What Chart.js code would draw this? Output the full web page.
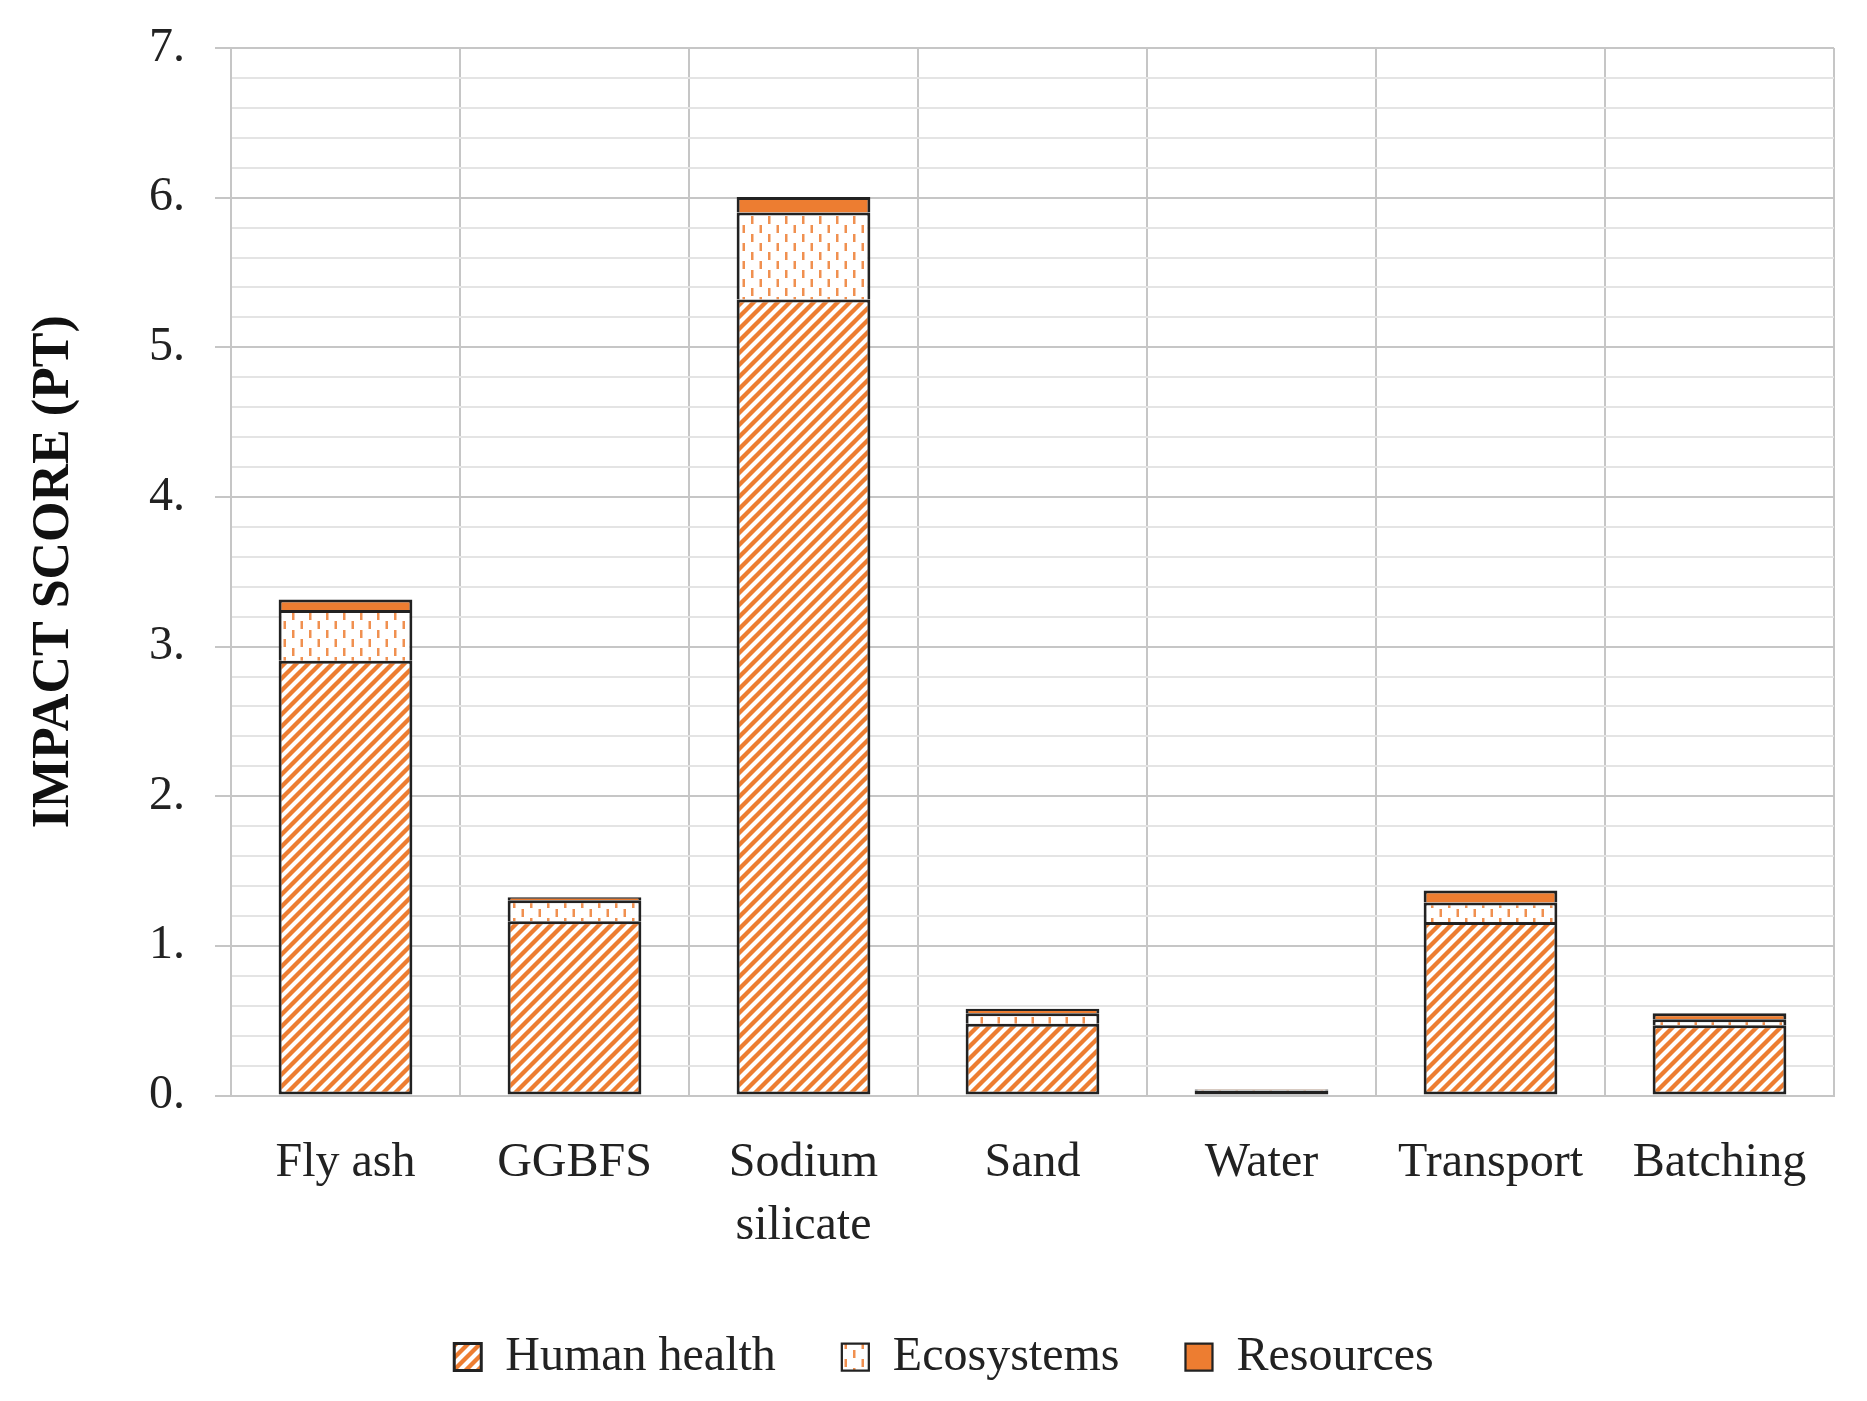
<!DOCTYPE html>
<html>
<head>
<meta charset="utf-8">
<script src="https://cdn.jsdelivr.net/npm/chart.js@4.4.1/dist/chart.umd.min.js"></script>
<style>
  html, body { margin: 0; padding: 0; background: #fff; }
  #wrap { width: 1867px; height: 1401px; position: relative; }
</style>
</head>
<body>
<div id="wrap"><canvas id="c" width="1867" height="1401"></canvas></div>
<script>
const categories = ['Fly ash', 'GGBFS', ['Sodium', 'silicate'], 'Sand', 'Water', 'Transport', 'Batching'];
const humanHealth = [2.905, 1.165, 5.32, 0.48, 0.034, 1.16, 0.47];
const ecosystems  = [0.34, 0.14, 0.58, 0.07, 0.005, 0.13, 0.04];
const resources   = [0.07, 0.02, 0.105, 0.03, 0.003, 0.08, 0.04];
const seriesNames = ['Human health', 'Ecosystems', 'Resources'];
const yMin = 0, yMax = 7, yStep = 0.2;

const ORANGE = '#ED7D31';
const canvas = document.getElementById('c');
const ctx = canvas.getContext('2d');

function makeHatch() {
  const c = document.createElement('canvas'); c.width = 12; c.height = 12;
  const g = c.getContext('2d');
  g.fillStyle = '#fff'; g.fillRect(0, 0, 12, 12);
  g.strokeStyle = ORANGE; g.lineWidth = 4.3; g.lineCap = 'square';
  g.beginPath();
  g.moveTo(-3, 15); g.lineTo(15, -3);
  g.moveTo(-3, 3); g.lineTo(3, -3);
  g.moveTo(9, 15); g.lineTo(15, 9);
  g.stroke();
  return ctx.createPattern(c, 'repeat');
}
function makeDashes() {
  const c = document.createElement('canvas'); c.width = 17; c.height = 18;
  const g = c.getContext('2d');
  g.fillStyle = '#fff'; g.fillRect(0, 0, 17, 18);
  g.fillStyle = 'rgba(237,125,49,0.85)';
  g.fillRect(3, 0, 2.5, 8);
  g.fillRect(11.5, 9, 2.5, 8);
  return ctx.createPattern(c, 'repeat');
}

const BORDER = '#222';
const isMajor = v => Math.abs(v - Math.round(v)) < 1e-6;

const legendShift = {
  id: 'legendShift',
  afterLayout(chart) {
    const lg = chart.legend;
    if (lg) { lg.left += 27; lg.right += 27; }
  }
};

new Chart(ctx, {
  type: 'bar',
  data: {
    labels: categories,
    datasets: [
      { label: seriesNames[0], data: humanHealth, backgroundColor: makeHatch(),
        borderColor: BORDER, borderSkipped: false, borderWidth: { top: 3, bottom: 3, left: 3, right: 3 } },
      { label: seriesNames[1], data: ecosystems, backgroundColor: makeDashes(),
        borderColor: BORDER, borderSkipped: false, borderWidth: { top: 3, bottom: 0, left: 3, right: 3 } },
      { label: seriesNames[2], data: resources, backgroundColor: ORANGE,
        borderColor: BORDER, borderSkipped: false, borderWidth: { top: 3, bottom: 0, left: 3, right: 3 } }
    ]
  },
  plugins: [legendShift],
  options: {
    responsive: false,
    animation: false,
    layout: { padding: { top: 48, right: 33, bottom: 10, left: 0 } },
    datasets: { bar: { categoryPercentage: 1.0, barPercentage: 0.584 } },
    plugins: {
      tooltip: { enabled: false },
      legend: {
        position: 'bottom',
        labels: {
          font: { family: 'Liberation Serif', size: 48 },
          color: '#222',
          boxWidth: 27, boxHeight: 27,
          padding: 66
        }
      }
    },
    scales: {
      x: {
        stacked: true,
        grid: { display: true, offset: true, color: '#c6c6c6', lineWidth: 2, drawTicks: false },
        border: { display: true, color: '#c6c6c6', width: 2 },
        ticks: {
          font: { family: 'Liberation Serif', size: 48, lineHeight: 1.3 },
          color: '#222', padding: 37, maxRotation: 0, autoSkip: false
        },
        afterFit: s => { s.height = 171.5; s.paddingLeft = 0; s.paddingRight = 0; }
      },
      y: {
        stacked: true,
        min: yMin, max: yMax,
        grid: {
          color: c => isMajor(c.tick.value) ? '#c6c6c6' : '#e4e4e4',
          tickColor: c => isMajor(c.tick.value) ? '#c6c6c6' : 'rgba(0,0,0,0)',
          lineWidth: 2, tickLength: 16
        },
        border: { display: true, color: '#c6c6c6', width: 2 },
        ticks: {
          stepSize: yStep, autoSkip: false,
          font: { family: 'Liberation Serif', size: 48 },
          color: '#222', padding: 30,
          callback: v => isMajor(v) ? Math.round(v) + '.' : ''
        },
        title: {
          display: true, text: 'IMPACT SCORE (PT)',
          font: { family: 'Liberation Serif', size: 52, weight: 'bold' },
          color: '#111', padding: { top: 23, bottom: 0 }
        },
        afterFit: s => { s.width = 231; s.paddingTop = 0; s.paddingBottom = 0; }
      }
    }
  }
});
</script>
</body>
</html>
